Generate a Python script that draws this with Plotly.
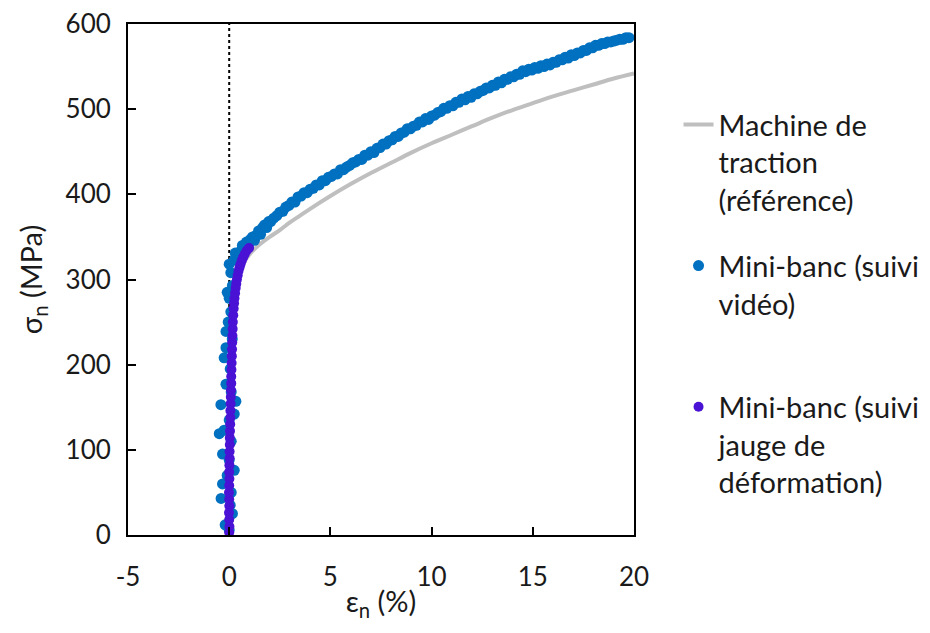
import plotly.graph_objects as go

# Axis ticks
x_ticks = [-5, 0, 5, 10, 15, 20]
x_tick_labels = ["-5", "0", "5", "10", "15", "20"]
y_ticks = [0, 100, 200, 300, 400, 500, 600]
y_tick_labels = ["0", "100", "200", "300", "400", "500", "600"]

# Machine de traction (référence) - grey curve
machine_x = [0.0, 0.1, 0.15, 0.2, 0.3, 0.5, 0.8, 1.1, 1.5, 2.0, 2.5, 3.0, 3.5, 4.0, 5.0, 6.0, 7.0, 8.0,
             9.0, 10.0, 11.0, 12.0, 13.0, 14.0, 15.0, 16.0, 17.0, 18.0, 19.0, 20.0]
machine_y = [0, 200, 270, 290, 300, 311, 323, 332, 341, 350, 358, 367, 375, 383, 398, 412, 425, 437,
             449, 460, 470, 480, 490, 499, 507, 515, 522, 529, 536, 542]

# Mini-banc (suivi vidéo) - blue points
video_x = [0.0, -0.2, 0.16, -0.4, 0.05, -0.33, 0.1, 0.25, -0.1, -0.33, 0.0, -0.49, -0.25, 0.1, 0.25, -0.41,
           0.33, 0.0, -0.16, 0.1, -0.25, 0.05, -0.16, 0.15, -0.16, 0.08, -0.05, 0.0, 0.16, -0.1, 0.08, 0.25,
           0.0, 0.49, 0.3,
           0.55, 0.65, 0.75, 0.85, 0.95, 1.05, 1.15, 1.25, 1.35, 1.45, 1.55, 1.65, 1.75, 1.85, 1.95,
           2.05, 2.2, 2.35, 2.5, 2.65, 2.8, 2.95, 3.1, 3.25, 3.4, 3.55, 3.7, 3.85, 4.0,
           4.15, 4.3, 4.45, 4.6, 4.75, 4.9, 5.05, 5.2, 5.35, 5.5, 5.65, 5.8, 5.95,
           6.1, 6.25, 6.4, 6.55, 6.7, 6.85, 7.0, 7.15, 7.3, 7.45, 7.6, 7.75, 7.9,
           8.05, 8.2, 8.35, 8.5, 8.65, 8.8, 8.95, 9.1, 9.25, 9.4, 9.55, 9.7, 9.85,
           10.0, 10.15, 10.3, 10.45, 10.6, 10.75, 10.9, 11.05, 11.2, 11.35, 11.5, 11.65, 11.8, 11.95,
           12.1, 12.25, 12.4, 12.55, 12.7, 12.85, 13.0, 13.15, 13.3, 13.45, 13.6, 13.75, 13.9,
           14.05, 14.2, 14.35, 14.5, 14.65, 14.8, 14.95, 15.1, 15.25, 15.4, 15.55, 15.7, 15.85,
           16.0, 16.15, 16.3, 16.45, 16.6, 16.75, 16.9, 17.05, 17.2, 17.35, 17.5, 17.65, 17.8, 17.95,
           18.1, 18.25, 18.4, 18.55, 18.7, 18.85, 19.0, 19.15, 19.3, 19.45, 19.6, 19.75]
video_y = [6, 12, 25, 43, 35, 60, 50, 76, 70, 95, 88, 119, 123, 110, 142, 153,
           157, 135, 177, 168, 208, 195, 220, 230, 239, 262, 250, 278, 293, 285, 308, 323,
           318, 328, 331,
           333, 340, 336, 344, 340, 347, 350, 346, 352, 357, 353, 361, 364, 361, 368,
           368, 372, 375, 379, 380, 385, 387, 391, 391, 397, 398, 402, 402, 406,
           407, 411, 411, 416, 416, 420, 421, 424, 424, 429, 429, 432, 434,
           437, 438, 441, 441, 446, 446, 450, 449, 454, 455, 459, 459, 463,
           464, 468, 468, 472, 473, 477, 477, 480, 481, 485, 485, 489, 488,
           492, 493, 496, 497, 501, 501, 504, 504, 508, 508, 512, 511, 515, 514,
           518, 518, 521, 522, 525, 525, 528, 528, 532, 531, 535, 535, 538,
           538, 541, 541, 545, 544, 547, 546, 549, 548, 551, 550, 553, 552,
           555, 555, 558, 558, 561, 560, 564, 563, 566, 566, 569, 569, 572, 572,
           575, 575, 577, 577, 579, 579, 580, 581, 582, 582, 584, 584]

# Mini-banc (suivi jauge de déformation) - purple points
gauge_x = [0.0, 0.01, 0.0, -0.01, 0.01, 0.0, -0.01, 0.0, 0.01, 0.0, 0.01, 0.02, 0.02, 0.03, 0.03, 0.04,
           0.05, 0.06, 0.06, 0.07, 0.08, 0.09, 0.1, 0.1, 0.11, 0.12, 0.13, 0.14, 0.15, 0.16, 0.17, 0.18,
           0.2, 0.22, 0.24, 0.26, 0.29, 0.32, 0.35, 0.38, 0.42, 0.46, 0.51, 0.56, 0.62, 0.69, 0.77, 0.87,
           0.98]
gauge_y = [3, 10, 18, 26, 34, 42, 50, 58, 66, 74, 82, 90, 98, 106, 114, 122,
           130, 138, 146, 154, 162, 170, 178, 186, 194, 202, 210, 218, 226, 234, 242, 250,
           258, 266, 272, 278, 284, 290, 295, 300, 305, 310, 314, 318, 322, 326, 330, 334,
           337]

FONT = "Lato, Open Sans, sans-serif"
TXT = "#1a1a1a"

fig = go.Figure()
fig.add_trace(go.Scatter(
    x=machine_x, y=machine_y, mode="lines", line=dict(color="#bfbfbf", width=4, shape="spline"),
    name="Machine de<br>traction<br>(référence)", legendgroup="a"))
fig.add_trace(go.Scatter(
    x=video_x, y=video_y, mode="markers", marker=dict(color="#0070c0", size=11),
    name="Mini-banc (suivi<br>vidéo)<br> ", legendgroup="b"))
fig.add_trace(go.Scatter(
    x=gauge_x, y=gauge_y, mode="markers", marker=dict(color="#4a12d4", size=10),
    name="Mini-banc (suivi<br>jauge de<br>déformation)", legendgroup="c"))

fig.add_shape(type="line", x0=0, x1=0, y0=0, y1=600, xref="x", yref="y",
              line=dict(color="black", width=2, dash="dot"), layer="below")

axis_common = dict(showline=True, linecolor="black", linewidth=2, mirror=True,
                   ticks="inside", ticklen=8, tickwidth=2, tickcolor="black",
                   showgrid=False, zeroline=False, automargin=False,
                   ticklabeloverflow="allow",
                   tickfont=dict(family=FONT, size=26, color=TXT))

fig.update_xaxes(range=[-5, 20], tickmode="array", tickvals=x_ticks, ticktext=x_tick_labels,
                 ticklabelstandoff=18,
                 title=dict(text="ε<sub>n</sub> (%)", font=dict(family=FONT, size=29, color=TXT), standoff=0),
                 **axis_common)
fig.update_yaxes(range=[0, 600], tickmode="array", tickvals=y_ticks, ticktext=y_tick_labels,
                 ticklabelstandoff=10,
                 title=dict(text="σ<sub>n</sub> (MPa)", font=dict(family=FONT, size=29, color=TXT), standoff=14),
                 **axis_common)

fig.update_layout(
    width=930, height=633,
    margin=dict(l=120, r=301, t=16, b=106),
    plot_bgcolor="white", paper_bgcolor="white",
    font=dict(family=FONT, size=26, color=TXT),
    legend=dict(x=1.088, y=0.853, xanchor="left", yanchor="top", valign="top",
                tracegroupgap=25, font=dict(family=FONT, size=29, color=TXT),
                bgcolor="rgba(0,0,0,0)"),
    showlegend=True,
)

fig.write_html("out.html")
